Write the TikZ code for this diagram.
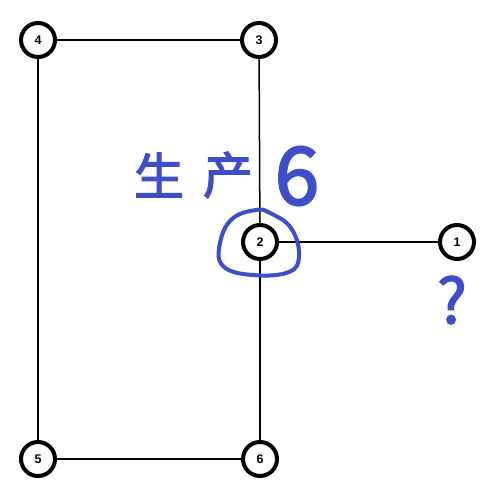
\documentclass[tikz,border=0pt]{standalone}
\usepackage{fontspec}
\setmainfont{Liberation Sans}
\newfontfamily\cjk[FakeBold=2.5]{Noto Sans CJK SC}
\definecolor{inkblue}{HTML}{3F4DC8}
\tikzset{
  vtx/.style={circle,draw=black,fill=white,line width=4pt,minimum size=34pt,inner sep=0pt,font=\bfseries\fontsize{12.5}{12.5}\selectfont},
  link/.style={line width=1.5pt,black},
  scrawl/.style={inkblue,font=\cjk\fontsize{50}{50}\selectfont,inner sep=0pt}
}
\begin{document}
\begin{tikzpicture}[x=1pt,y=-1pt]
  \useasboundingbox (0,0) rectangle (496,496);
  % vertices
  \node[vtx] (v4) at (38,40) {4};
  \node[vtx] (v3) at (259,40) {3};
  \node[vtx] (v2) at (260,242) {2};
  \node[vtx] (v1) at (457,242) {1};
  \node[vtx] (v5) at (38,459) {5};
  \node[vtx] (v6) at (260,459) {6};

  % edges
  \draw[link] (v4) -- (v3);
  \draw[link] (v3) -- (v2);
  \draw[link] (v2) -- (v1);
  \draw[link] (v2) -- (v6);
  \draw[link] (v4) -- (v5);
  \draw[link] (v5) -- (v6);

  % handwritten notes
  \node[scrawl] (sheng) at (159,175) {生};
  \node[scrawl] (chan) at (228,175) {产};
  \node[scrawl,font=\cjk\fontsize{80}{80}\selectfont] (six) at (297,176) {6};
  \node[scrawl,font=\cjk\fontsize{62}{62}\selectfont] (ask) at (452,300) {?};
  \draw[inkblue,line width=4pt,line cap=round]
    plot[smooth cycle,tension=0.7] coordinates {(256,210) (232,219) (220,243) (223,266) (252,275) (289,272) (299,255) (291,228) (270,213)};
\end{tikzpicture}
\end{document}
